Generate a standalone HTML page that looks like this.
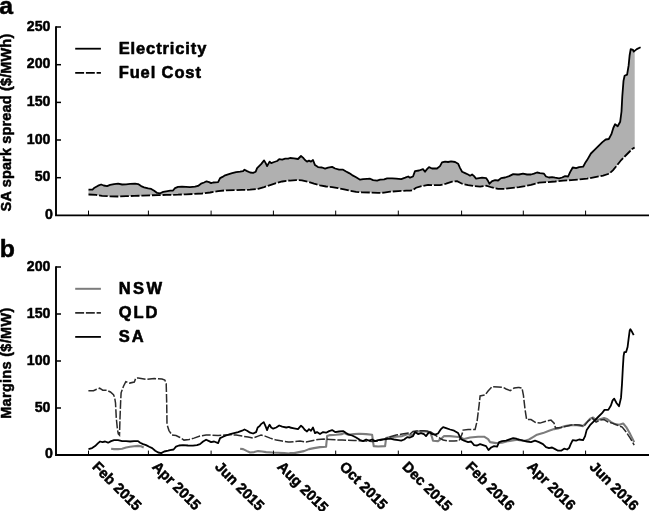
<!DOCTYPE html>
<html><head><meta charset="utf-8"><title>Figure</title>
<style>
html,body{margin:0;padding:0;background:#fff;}
body{width:649px;height:511px;overflow:hidden;}
svg{display:block;}
text{font-family:"Liberation Sans",Arial,Helvetica,sans-serif;font-weight:bold;fill:#000;stroke:#000;stroke-width:0.5px;stroke-linejoin:round;}
.tk text{font-size:15.1px;letter-spacing:0;}
.xl text{font-size:14.5px;letter-spacing:0;}
.yl{font-size:14.5px;letter-spacing:0.15px;}
.pl{font-size:24.8px;}
.lg text{font-size:16.5px;letter-spacing:0.88px;stroke-width:0.6px;}
.lg2 text{font-size:16.5px;letter-spacing:2.0px;stroke-width:0.6px;}
</style></head><body>
<svg width="649" height="511" viewBox="0 0 649 511">
<rect width="649" height="511" fill="#fff"/>
<path d="M88.5,189.7 L92.5,189.7 L94.5,187.7 L98.1,185.7 L101.1,184.5 L103.7,185.5 L107.1,186.1 L110.1,184.9 L114.1,184.1 L118.1,183.7 L122.1,184.5 L126.1,184.3 L130.1,183.9 L135.1,183.7 L138.1,184.1 L141.1,186.1 L144.1,187.3 L148.2,188.3 L151.2,188.9 L154.2,190.7 L157.2,192.9 L160.2,193.3 L163.2,191.9 L166.2,191.3 L170.2,190.7 L173.0,190.5 L175.0,188.1 L178.0,186.9 L182.0,186.7 L186.0,186.9 L190.0,187.1 L195.0,186.7 L198.0,185.9 L201.0,183.7 L204.1,182.5 L206.5,181.3 L209.1,182.1 L211.1,183.1 L213.1,182.5 L218.1,182.1 L220.1,178.1 L222.5,176.9 L225.1,175.3 L228.1,174.3 L232.1,173.1 L236.1,172.1 L240.1,171.7 L243.1,171.1 L244.5,169.7 L247.1,171.1 L250.1,172.5 L253.1,172.9 L255.7,171.7 L257.1,168.1 L259.1,166.1 L261.1,164.1 L263.1,161.6 L264.1,160.4 L265.7,163.1 L267.1,166.1 L268.2,164.1 L269.6,161.6 L271.2,163.1 L274.2,162.0 L277.2,161.0 L279.2,159.2 L282.2,159.6 L285.2,158.6 L288.2,158.6 L290.0,158.0 L294.0,158.4 L298.0,159.0 L301.0,156.0 L303.0,157.6 L305.0,160.0 L307.0,161.6 L309.0,160.6 L311.0,161.6 L313.0,160.0 L315.0,165.1 L318.0,167.1 L322.0,167.5 L325.1,168.7 L328.1,167.7 L332.1,166.9 L335.1,168.5 L339.1,169.7 L343.1,169.7 L346.1,171.5 L349.1,173.1 L352.1,175.1 L356.1,177.3 L360.1,179.7 L363.1,179.1 L367.1,178.9 L370.1,178.7 L373.1,180.1 L377.1,180.7 L380.1,179.7 L384.1,179.3 L387.1,178.3 L392.2,178.3 L396.2,178.7 L401.2,179.1 L405.2,177.7 L408.2,176.5 L410.0,177.7 L413.0,176.5 L415.0,171.1 L419.0,170.5 L423.0,169.1 L425.0,171.7 L427.0,169.1 L429.0,167.1 L432.0,168.5 L437.0,168.5 L440.0,166.1 L442.0,162.4 L445.1,161.6 L448.1,162.0 L451.1,161.4 L455.1,162.0 L458.1,163.7 L460.1,168.1 L462.1,171.7 L465.1,173.1 L468.1,174.5 L470.1,175.7 L472.1,174.5 L474.1,176.1 L476.1,178.7 L479.1,178.1 L482.1,177.7 L486.1,178.1 L488.1,181.1 L489.5,183.7 L492.1,181.1 L495.1,180.1 L498.1,180.5 L501.1,178.1 L505.1,177.5 L509.2,176.1 L513.2,174.1 L517.2,174.5 L519.0,174.5 L523.0,173.7 L527.0,174.5 L531.0,174.5 L534.0,173.7 L537.0,172.5 L540.0,173.1 L544.0,173.7 L546.0,176.5 L549.0,177.5 L552.1,177.1 L555.1,177.7 L559.1,178.3 L562.1,177.5 L565.1,176.1 L568.1,176.5 L570.1,172.1 L572.7,167.5 L576.1,168.1 L579.1,167.1 L583.1,166.7 L585.1,163.1 L587.1,160.1 L590.9,153.5 L594.8,149.7 L598.6,145.9 L602.4,142.1 L605.7,139.5 L608.8,139.0 L611.3,134.4 L613.3,128.0 L615.1,124.2 L617.7,126.3 L620.2,121.7 L621.5,111.5 L622.3,96.2 L623.5,80.9 L624.6,75.8 L627.1,74.6 L628.6,65.7 L629.6,55.5 L630.7,49.1 L633.0,49.9 L633.7,51.6 L634.7,50.5 L634.7,147.1 L634.6,147.4 L632.2,149.0 L629.2,152.0 L625.2,156.0 L621.2,160.0 L617.2,165.1 L613.1,170.1 L609.1,173.7 L603.1,175.7 L595.1,177.1 L587.1,178.7 L579.1,179.5 L571.1,180.1 L563.1,180.7 L555.1,181.5 L547.0,182.1 L539.0,182.7 L531.0,184.9 L525.0,186.1 L519.0,187.1 L516.2,187.5 L510.2,188.1 L504.1,188.9 L498.1,188.9 L492.1,187.5 L486.1,185.7 L480.1,186.7 L474.1,186.1 L468.1,185.1 L462.1,183.7 L457.1,181.1 L452.1,181.7 L446.1,183.7 L440.0,185.1 L434.0,185.1 L428.0,184.9 L422.0,186.1 L416.0,187.7 L413.0,190.1 L410.0,190.7 L406.2,190.7 L398.2,191.1 L390.2,191.7 L384.1,192.7 L378.1,192.9 L370.1,192.5 L362.1,192.3 L356.1,191.9 L350.1,190.7 L344.1,189.3 L338.1,188.1 L332.1,187.1 L326.1,186.5 L320.0,185.3 L314.0,183.7 L308.0,181.7 L302.0,180.3 L296.0,180.1 L290.0,180.7 L288.2,180.5 L282.2,181.5 L276.2,183.1 L270.2,185.1 L264.1,187.1 L258.1,188.9 L250.1,189.7 L242.1,189.9 L234.1,190.1 L226.1,190.3 L218.1,191.1 L210.1,192.5 L202.0,193.5 L194.0,193.9 L186.0,194.3 L178.0,194.7 L170.0,194.9 L166.2,194.9 L158.2,195.1 L150.2,195.3 L142.1,195.7 L134.1,195.9 L126.1,196.1 L118.1,196.5 L110.1,196.3 L102.1,195.9 L96.1,194.9 L88.5,194.5Z" fill="#b0b0b0" stroke="none"/>
<path d="M88.5,189.7 L92.5,189.7 L94.5,187.7 L98.1,185.7 L101.1,184.5 L103.7,185.5 L107.1,186.1 L110.1,184.9 L114.1,184.1 L118.1,183.7 L122.1,184.5 L126.1,184.3 L130.1,183.9 L135.1,183.7 L138.1,184.1 L141.1,186.1 L144.1,187.3 L148.2,188.3 L151.2,188.9 L154.2,190.7 L157.2,192.9 L160.2,193.3 L163.2,191.9 L166.2,191.3 L170.2,190.7 L173.0,190.5 L175.0,188.1 L178.0,186.9 L182.0,186.7 L186.0,186.9 L190.0,187.1 L195.0,186.7 L198.0,185.9 L201.0,183.7 L204.1,182.5 L206.5,181.3 L209.1,182.1 L211.1,183.1 L213.1,182.5 L218.1,182.1 L220.1,178.1 L222.5,176.9 L225.1,175.3 L228.1,174.3 L232.1,173.1 L236.1,172.1 L240.1,171.7 L243.1,171.1 L244.5,169.7 L247.1,171.1 L250.1,172.5 L253.1,172.9 L255.7,171.7 L257.1,168.1 L259.1,166.1 L261.1,164.1 L263.1,161.6 L264.1,160.4 L265.7,163.1 L267.1,166.1 L268.2,164.1 L269.6,161.6 L271.2,163.1 L274.2,162.0 L277.2,161.0 L279.2,159.2 L282.2,159.6 L285.2,158.6 L288.2,158.6 L290.0,158.0 L294.0,158.4 L298.0,159.0 L301.0,156.0 L303.0,157.6 L305.0,160.0 L307.0,161.6 L309.0,160.6 L311.0,161.6 L313.0,160.0 L315.0,165.1 L318.0,167.1 L322.0,167.5 L325.1,168.7 L328.1,167.7 L332.1,166.9 L335.1,168.5 L339.1,169.7 L343.1,169.7 L346.1,171.5 L349.1,173.1 L352.1,175.1 L356.1,177.3 L360.1,179.7 L363.1,179.1 L367.1,178.9 L370.1,178.7 L373.1,180.1 L377.1,180.7 L380.1,179.7 L384.1,179.3 L387.1,178.3 L392.2,178.3 L396.2,178.7 L401.2,179.1 L405.2,177.7 L408.2,176.5 L410.0,177.7 L413.0,176.5 L415.0,171.1 L419.0,170.5 L423.0,169.1 L425.0,171.7 L427.0,169.1 L429.0,167.1 L432.0,168.5 L437.0,168.5 L440.0,166.1 L442.0,162.4 L445.1,161.6 L448.1,162.0 L451.1,161.4 L455.1,162.0 L458.1,163.7 L460.1,168.1 L462.1,171.7 L465.1,173.1 L468.1,174.5 L470.1,175.7 L472.1,174.5 L474.1,176.1 L476.1,178.7 L479.1,178.1 L482.1,177.7 L486.1,178.1 L488.1,181.1 L489.5,183.7 L492.1,181.1 L495.1,180.1 L498.1,180.5 L501.1,178.1 L505.1,177.5 L509.2,176.1 L513.2,174.1 L517.2,174.5 L519.0,174.5 L523.0,173.7 L527.0,174.5 L531.0,174.5 L534.0,173.7 L537.0,172.5 L540.0,173.1 L544.0,173.7 L546.0,176.5 L549.0,177.5 L552.1,177.1 L555.1,177.7 L559.1,178.3 L562.1,177.5 L565.1,176.1 L568.1,176.5 L570.1,172.1 L572.7,167.5 L576.1,168.1 L579.1,167.1 L583.1,166.7 L585.1,163.1 L587.1,160.1 L590.9,153.5 L594.8,149.7 L598.6,145.9 L602.4,142.1 L605.7,139.5 L608.8,139.0 L611.3,134.4 L613.3,128.0 L615.1,124.2 L617.7,126.3 L620.2,121.7 L621.5,111.5 L622.3,96.2 L623.5,80.9 L624.6,75.8 L627.1,74.6 L628.6,65.7 L629.6,55.5 L630.7,49.1 L633.0,49.9 L633.7,51.6 L636.8,49.1 L640.6,47.3" fill="none" stroke="#000" stroke-width="1.8" stroke-linejoin="round"/>
<path d="M88.5,194.5 L96.1,194.9 L102.1,195.9 L110.1,196.3 L118.1,196.5 L126.1,196.1 L134.1,195.9 L142.1,195.7 L150.2,195.3 L158.2,195.1 L166.2,194.9 L170.0,194.9 L178.0,194.7 L186.0,194.3 L194.0,193.9 L202.0,193.5 L210.1,192.5 L218.1,191.1 L226.1,190.3 L234.1,190.1 L242.1,189.9 L250.1,189.7 L258.1,188.9 L264.1,187.1 L270.2,185.1 L276.2,183.1 L282.2,181.5 L288.2,180.5 L290.0,180.7 L296.0,180.1 L302.0,180.3 L308.0,181.7 L314.0,183.7 L320.0,185.3 L326.1,186.5 L332.1,187.1 L338.1,188.1 L344.1,189.3 L350.1,190.7 L356.1,191.9 L362.1,192.3 L370.1,192.5 L378.1,192.9 L384.1,192.7 L390.2,191.7 L398.2,191.1 L406.2,190.7 L410.0,190.7 L413.0,190.1 L416.0,187.7 L422.0,186.1 L428.0,184.9 L434.0,185.1 L440.0,185.1 L446.1,183.7 L452.1,181.7 L457.1,181.1 L462.1,183.7 L468.1,185.1 L474.1,186.1 L480.1,186.7 L486.1,185.7 L492.1,187.5 L498.1,188.9 L504.1,188.9 L510.2,188.1 L516.2,187.5 L519.0,187.1 L525.0,186.1 L531.0,184.9 L539.0,182.7 L547.0,182.1 L555.1,181.5 L563.1,180.7 L571.1,180.1 L579.1,179.5 L587.1,178.7 L595.1,177.1 L603.1,175.7 L609.1,173.7 L613.1,170.1 L617.2,165.1 L621.2,160.0 L625.2,156.0 L629.2,152.0 L632.2,149.0 L634.6,147.4" fill="none" stroke="#000" stroke-width="1.8" stroke-dasharray="8.7 1.9"/>
<g stroke="#000" stroke-width="1.9" fill="none">
<path d="M56.0,26.2 V215.4 H649"/>
<path d="M56.0,177.7 h5" stroke-width="1.5"/>
<path d="M56.0,140.0 h5" stroke-width="1.5"/>
<path d="M56.0,102.4 h5" stroke-width="1.5"/>
<path d="M56.0,64.7 h5" stroke-width="1.5"/>
<path d="M56.0,27.0 h5" stroke-width="1.5"/>
<path d="M88.5,215.4 v-4.8" stroke-width="1"/>
<path d="M148.4,215.4 v-4.8" stroke-width="1"/>
<path d="M211.1,215.4 v-4.8" stroke-width="1"/>
<path d="M273.4,215.4 v-4.8" stroke-width="1"/>
<path d="M335.7,215.4 v-4.8" stroke-width="1"/>
<path d="M398.3,215.4 v-4.8" stroke-width="1"/>
<path d="M461.6,215.4 v-4.8" stroke-width="1"/>
<path d="M523.3,215.4 v-4.8" stroke-width="1"/>
<path d="M585.6,215.4 v-4.8" stroke-width="1"/>
</g>
<g class="tk" text-anchor="end">
<text transform="translate(52.8,218.6) scale(0.94,1)">0</text>
<text transform="translate(50.5,181.3) scale(0.94,1)">50</text>
<text transform="translate(50.5,143.6) scale(0.94,1)">100</text>
<text transform="translate(50.5,106.0) scale(0.94,1)">150</text>
<text transform="translate(50.5,68.3) scale(0.94,1)">200</text>
<text transform="translate(50.5,30.6) scale(0.94,1)">250</text>
</g>
<path d="M111.1,448.7 L114.1,449.1 L118.1,449.1 L122.1,448.7 L126.1,447.5 L130.1,446.7 L134.1,446.3 L138.1,445.9 L141.1,446.3 L143.7,447.5" fill="none" stroke="#7c7c7c" stroke-width="2.1" stroke-linejoin="round"/>
<path d="M240.1,448.7 L243.1,449.1 L247.1,451.1 L250.1,452.5 L254.1,452.1 L258.1,451.1 L262.1,451.5 L266.1,452.1 L272.2,452.5 L278.2,452.7 L284.2,453.1 L289.2,453.5 L290.0,453.1 L294.0,453.1 L299.0,452.1 L304.0,451.1 L309.0,449.1 L314.0,448.1 L320.0,447.1 L326.1,446.7 L327.1,436.1 L330.1,435.1 L336.1,434.7 L342.1,434.1 L344.1,433.1 L348.1,434.7 L354.1,434.1 L359.1,433.7 L366.1,434.1 L372.1,434.7 L373.7,446.1 L378.1,446.5 L385.1,446.1 L386.1,438.1 L390.2,437.1 L396.2,436.7 L402.2,436.1 L408.2,434.1 L410.0,435.1 L413.0,434.7 L415.0,432.1 L420.0,431.1 L426.0,431.5 L430.0,432.1 L432.0,437.1 L433.0,440.7 L438.0,441.1 L442.0,438.1 L444.1,436.1 L450.1,436.1 L456.1,436.7 L460.1,437.1 L464.1,439.1 L470.1,437.5 L478.1,436.7 L484.1,436.7 L488.1,439.1 L490.1,442.1 L496.1,443.1 L502.1,442.7 L508.2,441.1 L514.2,440.1 L518.2,439.7 L519.0,440.1 L525.0,440.7 L529.0,439.5 L533.0,437.1 L537.0,434.7 L543.0,433.1 L549.0,430.7 L554.1,429.1 L559.1,428.1 L565.1,426.1 L571.1,425.1 L577.1,425.1 L583.1,426.1 L587.1,422.1 L590.1,418.7 L593.1,417.5 L596.1,420.1 L599.1,419.5 L604.1,418.1 L607.1,419.1 L611.1,422.1 L615.1,424.1 L619.2,424.7 L623.2,423.5 L626.2,427.1 L630.2,434.1 L633.2,440.1 L634.2,442.1" fill="none" stroke="#7c7c7c" stroke-width="2.1" stroke-linejoin="round"/>
<path d="M88.4,390.8 L93.5,390.8 L96.6,389.3 L99.6,388.2 L102.7,390.2 L106.6,390.2 L110.4,392.0 L113.5,394.8 L114.6,397.4 L115.5,402.8 L116.3,418.2 L117.4,429.0 L118.3,433.9 L119.5,435.2 L120.0,418.2 L120.6,402.8 L121.1,392.8 L123.5,386.2 L125.8,381.6 L129.7,383.1 L134.3,382.0 L135.8,378.2 L138.2,377.9 L146.6,379.4 L154.3,378.5 L162.0,379.1 L164.8,380.0 L166.2,383.6 L166.7,402.8 L167.0,424.4 L169.0,430.6 L170.0,432.1 L172.0,435.1 L176.0,435.5 L180.0,437.5 L184.0,440.1 L189.0,439.5 L194.0,438.1 L200.0,436.1 L206.1,435.1 L212.1,435.1 L218.1,435.5 L224.1,435.1 L230.1,434.7 L236.1,435.1 L242.1,436.1 L248.1,437.1 L253.1,438.1 L258.1,436.1 L261.1,435.1 L265.1,436.1 L270.2,438.1 L276.2,440.1 L282.2,441.1 L288.2,442.1 L290.0,442.1 L295.0,441.5 L300.0,441.1 L306.0,442.1 L312.0,440.7 L318.0,439.5 L324.1,439.1 L330.1,439.5 L336.1,439.9 L342.1,440.1 L348.1,440.3 L354.1,440.5 L360.1,440.7 L366.1,441.1 L372.1,441.5 L378.1,441.1 L384.1,439.1 L390.2,436.7 L396.2,435.1 L402.2,434.1 L408.2,433.1 L410.0,434.1 L413.0,431.5 L418.0,430.7 L424.0,430.7 L430.0,431.5 L434.0,434.1 L438.0,437.1 L443.1,440.1 L448.1,441.1 L454.1,441.1 L459.1,440.7 L462.1,434.1 L463.1,430.1 L468.1,429.5 L475.1,429.5 L477.1,421.1 L479.1,405.1 L480.1,396.0 L485.1,395.0 L488.1,391.0 L492.1,386.6 L498.1,387.0 L503.1,387.4 L506.1,389.0 L510.2,390.6 L514.2,388.0 L518.2,387.4 L519.0,387.4 L522.0,388.0 L523.4,395.0 L525.0,409.1 L526.6,419.5 L531.0,419.5 L536.0,422.7 L540.0,423.1 L545.0,421.5 L551.0,420.1 L554.1,423.1 L555.5,428.1 L561.1,427.5 L567.1,426.1 L573.1,424.7 L579.1,425.1 L584.1,426.1 L588.1,421.1 L592.1,418.1 L596.1,422.1 L600.1,420.1 L604.1,419.5 L608.1,422.1 L612.1,423.1 L617.2,425.1 L622.2,427.1 L626.2,432.1 L630.2,438.1 L634.2,445.1" fill="none" stroke="#2a2a2a" stroke-width="1.5" stroke-dasharray="8.7 1.9"/>
<path d="M88.5,449.1 L92.1,448.1 L95.1,446.1 L98.1,443.1 L100.1,441.5 L102.5,442.1 L105.1,441.5 L108.1,442.7 L111.1,441.1 L114.1,440.1 L118.1,440.1 L122.1,441.1 L126.1,441.1 L130.1,441.5 L134.1,441.1 L138.1,441.1 L140.1,442.7 L143.1,444.1 L146.1,445.1 L149.2,446.7 L152.2,448.1 L155.2,450.7 L158.2,452.5 L161.2,453.1 L164.2,451.5 L168.2,450.7 L170.0,450.1 L173.6,449.5 L176.0,446.7 L179.0,445.5 L183.0,445.1 L188.0,445.5 L193.0,445.7 L197.0,445.1 L200.0,444.1 L203.1,441.5 L206.1,439.7 L209.1,441.1 L211.1,442.1 L214.1,441.5 L218.1,443.1 L220.1,438.1 L223.1,436.7 L226.1,435.5 L230.1,434.1 L234.1,433.1 L238.1,432.1 L242.1,430.7 L244.5,429.5 L247.1,430.7 L250.1,432.7 L253.1,433.5 L256.1,432.1 L257.7,427.5 L259.7,426.1 L261.1,424.1 L263.7,422.1 L265.1,425.1 L267.1,430.1 L268.2,427.1 L269.6,424.7 L271.2,427.5 L273.2,428.7 L276.2,427.5 L279.2,425.5 L282.2,426.7 L286.2,427.5 L289.2,426.9 L290.0,427.5 L294.0,428.3 L298.0,429.1 L301.0,425.7 L303.0,427.5 L305.0,430.1 L307.0,431.5 L309.0,429.1 L311.0,430.7 L313.0,427.5 L315.0,433.1 L317.0,432.1 L320.0,434.1 L323.1,432.1 L326.1,432.7 L329.1,431.1 L332.1,430.1 L335.1,432.1 L339.1,431.5 L343.1,431.1 L346.1,433.1 L349.1,434.7 L352.1,435.5 L356.1,437.5 L360.1,440.1 L363.1,441.1 L366.1,439.5 L369.1,440.7 L372.1,439.5 L375.1,441.1 L378.1,440.1 L382.1,439.5 L386.1,439.1 L390.2,438.7 L394.2,439.5 L398.2,440.1 L401.2,440.7 L404.2,439.5 L407.2,437.1 L409.2,437.5 L410.0,437.5 L413.0,436.1 L415.0,432.1 L418.0,434.1 L421.0,433.1 L424.0,434.1 L426.0,436.1 L429.0,432.1 L432.0,434.1 L435.0,434.7 L438.0,433.5 L441.0,429.1 L443.1,427.1 L446.1,428.1 L450.1,429.5 L454.1,430.7 L458.1,433.1 L461.1,439.1 L464.1,440.7 L468.1,442.1 L471.1,441.5 L474.1,445.1 L477.1,445.5 L480.1,444.1 L483.1,445.1 L486.1,446.1 L488.5,450.1 L491.1,447.5 L494.1,446.1 L497.1,446.7 L499.1,442.1 L502.1,441.1 L506.1,440.7 L510.2,439.1 L513.2,438.1 L516.2,438.7 L518.2,439.5 L519.0,439.5 L523.0,440.7 L527.0,441.5 L531.0,442.1 L535.0,440.7 L539.0,442.1 L543.0,444.1 L546.0,447.1 L549.0,448.1 L552.1,447.5 L555.1,449.1 L558.1,450.7 L561.1,450.7 L564.1,448.7 L567.1,449.5 L569.1,448.1 L570.7,444.1 L572.7,440.1 L576.1,440.7 L579.1,439.5 L583.1,440.1 L585.1,436.1 L586.7,429.9 L590.5,424.6 L594.3,420.8 L598.1,417.0 L602.0,413.2 L604.5,409.9 L608.3,409.9 L610.9,405.5 L612.6,400.4 L614.2,398.7 L616.5,403.0 L619.0,406.3 L621.0,397.9 L622.0,383.9 L622.8,368.7 L623.6,355.9 L624.3,352.1 L626.1,352.1 L627.6,347.0 L628.7,338.1 L629.7,330.5 L630.4,329.2 L632.0,331.8 L633.7,335.1" fill="none" stroke="#000" stroke-width="1.8" stroke-linejoin="round"/>
<g stroke="#000" stroke-width="1.9" fill="none">
<path d="M56.0,266.2 V455.0 H649"/>
<path d="M56.0,408.0 h5" stroke-width="1.5"/>
<path d="M56.0,361.0 h5" stroke-width="1.5"/>
<path d="M56.0,314.0 h5" stroke-width="1.5"/>
<path d="M56.0,267.0 h5" stroke-width="1.5"/>
<path d="M88.5,455.0 v-4.4" stroke-width="1"/>
<path d="M148.4,455.0 v-4.4" stroke-width="1"/>
<path d="M211.1,455.0 v-4.4" stroke-width="1"/>
<path d="M273.4,455.0 v-4.4" stroke-width="1"/>
<path d="M335.7,455.0 v-4.4" stroke-width="1"/>
<path d="M398.3,455.0 v-4.4" stroke-width="1"/>
<path d="M461.6,455.0 v-4.4" stroke-width="1"/>
<path d="M523.3,455.0 v-4.4" stroke-width="1"/>
<path d="M585.6,455.0 v-4.4" stroke-width="1"/>
</g>
<g class="tk" text-anchor="end">
<text transform="translate(52.8,458.2) scale(0.94,1)">0</text>
<text transform="translate(50.5,411.6) scale(0.94,1)">50</text>
<text transform="translate(50.5,364.6) scale(0.94,1)">100</text>
<text transform="translate(50.5,317.6) scale(0.94,1)">150</text>
<text transform="translate(50.5,270.6) scale(0.94,1)">200</text>
</g>
<g class="xl">
<text transform="translate(91.6,467.6) rotate(45)">Feb 2015</text>
<text transform="translate(151.5,467.6) rotate(45)">Apr 2015</text>
<text transform="translate(214.2,467.6) rotate(45)">Jun 2015</text>
<text transform="translate(276.5,467.6) rotate(45)">Aug 2015</text>
<text transform="translate(338.8,467.6) rotate(45)">Oct 2015</text>
<text transform="translate(401.4,467.6) rotate(45)">Dec 2015</text>
<text transform="translate(464.7,467.6) rotate(45)">Feb 2016</text>
<text transform="translate(526.4,467.6) rotate(45)">Apr 2016</text>
<text transform="translate(588.7,467.6) rotate(45)">Jun 2016</text>
</g>
<text class="yl" transform="translate(11.3,211.4) rotate(-90)">SA spark spread ($/MWh)</text>
<text class="yl" style="letter-spacing:0.3px" transform="translate(11.3,418.8) rotate(-90)">Margins ($/MW)</text>
<text class="pl" x="-0.8" y="13.7">a</text>
<text class="pl" x="-0.3" y="256.5">b</text>
<g stroke-width="1.6" fill="none">
<path d="M75.2,48.7 H100.9" stroke="#000" stroke-width="1.8"/>
<path d="M75.2,72.9 H100.9" stroke="#000" stroke-width="1.8" stroke-dasharray="8.9 1.8"/>
<path d="M75.2,288.8 H100.9" stroke="#7c7c7c" stroke-width="2"/>
<path d="M75.2,312.9 H100.9" stroke="#2a2a2a" stroke-width="1.6" stroke-dasharray="8.9 1.8"/>
<path d="M75.2,336.9 H100.9" stroke="#000" stroke-width="1.8"/>
</g>
<g class="lg">
<text x="118.7" y="53.9">Electricity</text>
<text x="118.7" y="77.6">Fuel Cost</text>
</g>
<g class="lg2">
<text x="118.7" y="293.9" style="letter-spacing:2.5px">NSW</text>
<text x="118.7" y="317.7">QLD</text>
<text x="118.7" y="341.6">SA</text>
</g>
</svg>
</body></html>
